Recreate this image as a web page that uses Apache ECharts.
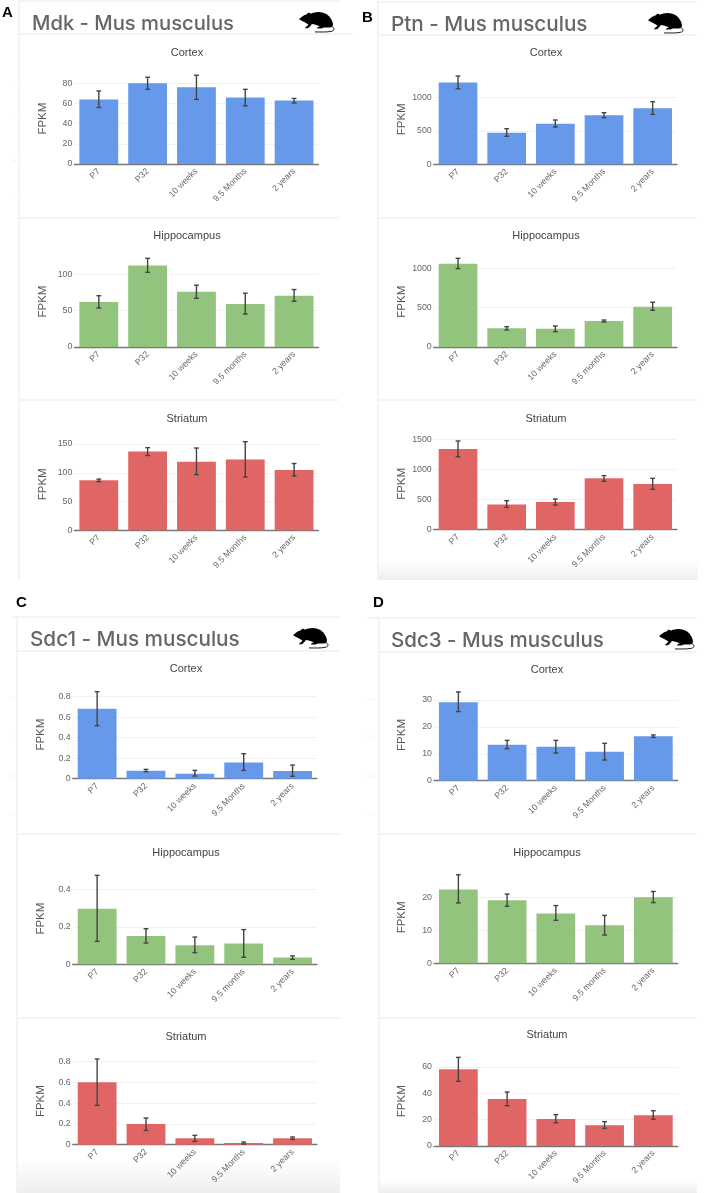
<!DOCTYPE html>
<html><head><meta charset="utf-8">
<style>html,body{margin:0;padding:0;background:#fff}#c{width:708px;height:1193px;filter:blur(0.35px)}</style>
<script src="https://cdn.jsdelivr.net/npm/echarts@6/dist/echarts.min.js"></script>
</head><body><div id="c"></div>
<script>
const agesUpper = ['P7','P32','10 weeks','9.5 Months','2 years'];
const agesLower = ['P7','P32','10 weeks','9.5 months','2 years'];
const regions = ['Cortex','Hippocampus','Striatum'];
const headings = ['Mdk - Mus musculus','Ptn - Mus musculus','Sdc1 - Mus musculus','Sdc3 - Mus musculus'];
const panelLetters = ['A','B','C','D'];

const mdkCortex = [64,80,76,66,63];
const mdkCortexErr = [[56,72.4],[74,86],[64,88],[57.6,74],[60.5,65]];
const mdkHippo = [62,112,76,59,70.6];
const mdkHippoErr = [[53.7,70.6],[102.7,122],[67,85],[45.4,74],[63,79]];
const mdkStriatum = [87,137,119,123,105];
const mdkStriatumErr = [[84.5,89],[130,143.6],[96.7,143],[92.6,154],[94.4,116]];

const ptnCortex = [1230,475,610,735,840];
const ptnCortexErr = [[1135,1325],[420,535],[560,665],[700,775],[750,940]];
const ptnHippo = [1059,237,233,330,513];
const ptnHippoErr = [[996,1127],[216,258],[195,267],[318,343],[466,568]];
const ptnStriatum = [1339,420,459,852,758];
const ptnStriatumErr = [[1212,1472],[371,481],[410,509],[802,897],[670,852]];

const sdc1Cortex = [0.683,0.078,0.049,0.159,0.075];
const sdc1CortexErr = [[0.517,0.849],[0.068,0.091],[0.026,0.081],[0.081,0.244],[0.023,0.133]];
const sdc1Hippo = [0.298,0.152,0.102,0.111,0.036];
const sdc1HippoErr = [[0.123,0.477],[0.114,0.191],[0.0625,0.146],[0.0375,0.186],[0.027,0.045]];
const sdc1Striatum = [0.601,0.2,0.061,0.016,0.061];
const sdc1StriatumErr = [[0.379,0.826],[0.138,0.257],[0.032,0.09],[0.006,0.026],[0.051,0.074]];

const sdc3Cortex = [29.2,13.4,12.6,10.8,16.5];
const sdc3CortexErr = [[25.7,33],[11.9,15],[10.3,15],[7.7,13.9],[16.1,17]];
const sdc3Hippo = [22.5,19.2,15.2,11.6,20.1];
const sdc3HippoErr = [[18.4,27],[17.4,21.1],[13.1,17.6],[8.6,14.6],[18.5,21.9]];
const sdc3Striatum = [58.2,35.7,20.5,15.7,23.3];
const sdc3StriatumErr = [[49.1,67.3],[30.6,41],[17.7,23.8],[13.4,18.5],[20.3,26.8]];

const values = [
  [mdkCortex,mdkHippo,mdkStriatum],[ptnCortex,ptnHippo,ptnStriatum],
  [sdc1Cortex,sdc1Hippo,sdc1Striatum],[sdc3Cortex,sdc3Hippo,sdc3Striatum]];
const errors = [
  [mdkCortexErr,mdkHippoErr,mdkStriatumErr],[ptnCortexErr,ptnHippoErr,ptnStriatumErr],
  [sdc1CortexErr,sdc1HippoErr,sdc1StriatumErr],[sdc3CortexErr,sdc3HippoErr,sdc3StriatumErr]];

// axis settings: [tick interval, axis max, reference tick value]
const axes = [
  [[20,90,80],[50,125,100],[50,160,150]],
  [[500,1350,1000],[500,1150,1000],[500,1520,1500]],
  [[0.2,0.86,0.8],[0.2,0.49,0.4],[0.2,0.84,0.8]],
  [[10,34,30],[10,28,20],[20,68,60]]];
// layout: plot left/right, zero pixel, reference tick pixel, title centre x / y
const plotX = [[74.4,318.5],[433.7,677],[72.7,317],[434,677.7]];
const zeroY = [[164,347,530.3],[164.3,347,529.7],[778.7,964.3,1144.7],[780.7,963.3,1146]];
const tickY = [[83.3,274.3,444],[97.7,268.3,439.3],[696.7,889.7,1061.7],[700,897.7,1067]];
const titleX = [187,546,186,547];
const titleY = [[52,235,418],[52,235,418],[668,852,1036],[669,852,1034]];

const colors = ['#6699E9','#93C47D','#E06666'];
const FONT = '"Liberation Sans", Arial, sans-serif';

const grid=[],xAxis=[],yAxis=[],series=[],title=[];
let idx=0;
values.forEach((gene,g)=>{
  gene.forEach((vals,r)=>{
    const [intv,amax,tv]=axes[g][r];
    const y0=zeroY[g][r], yt=tickY[g][r];
    const h=(y0-yt)*amax/tv;
    grid.push({left:plotX[g][0],width:plotX[g][1]-plotX[g][0],top:y0-h,height:h,containLabel:false});
    xAxis.push({type:'category',gridIndex:idx,data:r===1?agesLower:agesUpper,
      axisLine:{show:true,lineStyle:{color:'#777',width:1.4}},
      axisTick:{show:false},
      axisLabel:{interval:0,rotate:45,margin:6,fontSize:8.7,color:'#666',fontFamily:FONT}});
    yAxis.push({type:'value',gridIndex:idx,min:0,max:amax,interval:intv,
      name:'FPKM',nameLocation:'middle',nameGap:26,
      nameTextStyle:{fontSize:11.5,color:'#555',fontFamily:FONT},
      axisLine:{show:false},axisTick:{show:false},
      axisLabel:{showMaxLabel:false,margin:2,fontSize:8.8,color:'#666',fontFamily:FONT,
        formatter:v=>String(+v.toFixed(2))},
      splitLine:{show:true,showMaxLine:false,lineStyle:{color:'#f1f1f1',width:1}}});
    series.push({type:'bar',xAxisIndex:idx,yAxisIndex:idx,data:vals,barWidth:'79.5%',silent:true,
      itemStyle:{color:colors[r]}});
    series.push({type:'custom',xAxisIndex:idx,yAxisIndex:idx,silent:true,clip:false,
      data:errors[g][r].map((e,i)=>[i,e[0],e[1]]),encode:{x:0,y:[1,2]},z:5,
      renderItem:(p,api)=>{
        const x=api.value(0),lo=api.coord([x,api.value(1)]),hi=api.coord([x,api.value(2)]);
        const st={stroke:'#444',lineWidth:1.4},c=2.4;
        return {type:'group',children:[
          {type:'line',shape:{x1:lo[0],y1:lo[1],x2:hi[0],y2:hi[1]},style:st},
          {type:'line',shape:{x1:lo[0]-c,y1:lo[1],x2:lo[0]+c,y2:lo[1]},style:st},
          {type:'line',shape:{x1:hi[0]-c,y1:hi[1],x2:hi[0]+c,y2:hi[1]},style:st}]};
      }});
    title.push({text:regions[r],left:titleX[g],top:titleY[g][r]-5,padding:0,textAlign:'center',
      textStyle:{fontSize:11,fontWeight:'normal',color:'#444',fontFamily:FONT}});
    idx++;
  });
});

// page furniture
const ruleColor='#f0f0f0';
const rules=[
  [19,0,19,580],[20,1,340,1],[20,34,353,34],[20,218,339,218],[20,400,339,400],
  [378,0,378,580],[378,2,697,2],[378,35,697,35],[378,218,697,218],[378,400,697,400],
  [17,617,17,1193],[12,617,340,617],[17,651,340,651],[17,834,340,834],[17,1018,340,1018],
  [379,618,379,1193],[367,618,697,618],[379,652,697,652],[379,834,697,834],[379,1018,697,1018]];
const stubs=[
  [12,82],[12,118],[12,157],[12,161],[12,197],
  [11,698],[11,736],[11,774],[11,777],[11,814],
  [367,699],[367,736],[367,774],[367,777],[367,814]];
const headingPos=[[32,34],[391,35],[30,650],[391,651]];
const headingSize=[20.2,20.7,20.7,20.5];
const letterPos=[[2,5],[362,10],[16,595],[373,595]];
const ratPos=[[299,12],[648,13],[293,628],[659,629]];
const shades=[[378,562,320,18],[17,1160,323,33],[379,1180,318,13]];
const ratBody='M0 22C8 15 14 10 22 8C24 3 30 2 33 7C42 2 56 0 68 4C82 8 92 20 95 34C96 40 92 44 86 44L70 44C66 44 66 47 60 47L50 47C50 44 55 43 58 41C50 38 42 36 36 35C32 40 28 46 24 46L16 46C18 43 24 41 26 36C20 32 10 28 0 22Z';
const ratTail='M92 38C100 44 102 52 92 55C80 58 64 57 50 57';
const graphic=[];
shades.forEach(s=>graphic.push({type:'rect',z:-1,shape:{x:s[0],y:s[1],width:s[2],height:s[3]},
  style:{fill:{type:'linear',x:0,y:0,x2:0,y2:1,colorStops:[{offset:0,color:'rgba(238,238,238,0)'},{offset:1,color:'rgba(238,238,238,1)'}]}}}));
rules.forEach(r=>graphic.push({type:'line',z:-1,shape:{x1:r[0],y1:r[1],x2:r[2],y2:r[3]},style:{stroke:ruleColor,lineWidth:1.5}}));
stubs.forEach(s=>graphic.push({type:'line',z:-1,shape:{x1:s[0],y1:s[1],x2:s[0]+7,y2:s[1]},style:{stroke:'#f4f4f4',lineWidth:1}}));
headings.forEach((t,i)=>graphic.push({type:'text',x:headingPos[i][0],y:headingPos[i][1],
  style:{text:t,fontFamily:'Inter, sans-serif',fontWeight:500,fontSize:headingSize[i],fill:'#666',textVerticalAlign:'bottom'}}));
panelLetters.forEach((t,i)=>graphic.push({type:'text',x:letterPos[i][0],y:letterPos[i][1],
  style:{text:t,fontFamily:FONT,fontWeight:'bold',fontSize:15,fill:'#000'}}));

// mouse icons, drawn by a coordinate-free custom series
series.push({type:'custom',coordinateSystem:'none',silent:true,data:ratPos.map((p,i)=>[i]),
  renderItem:(p,api)=>{
    const [x,y]=ratPos[api.value(0)];
    return {type:'group',children:[
      {type:'path',shape:{pathData:ratBody,x:x,y:y,width:34,height:16.5,layout:'cover'},style:{fill:'#000'}},
      {type:'path',shape:{pathData:ratTail,x:x+16,y:y+14,width:19,height:6,layout:'cover'},style:{fill:'transparent',stroke:'#000',lineWidth:0.9}}]};
  }});

const chart=echarts.init(document.getElementById('c'),null,{renderer:'canvas',width:708,height:1193});
chart.setOption({animation:false,backgroundColor:'#fff',title,grid,xAxis,yAxis,series,graphic});
</script></body></html>
